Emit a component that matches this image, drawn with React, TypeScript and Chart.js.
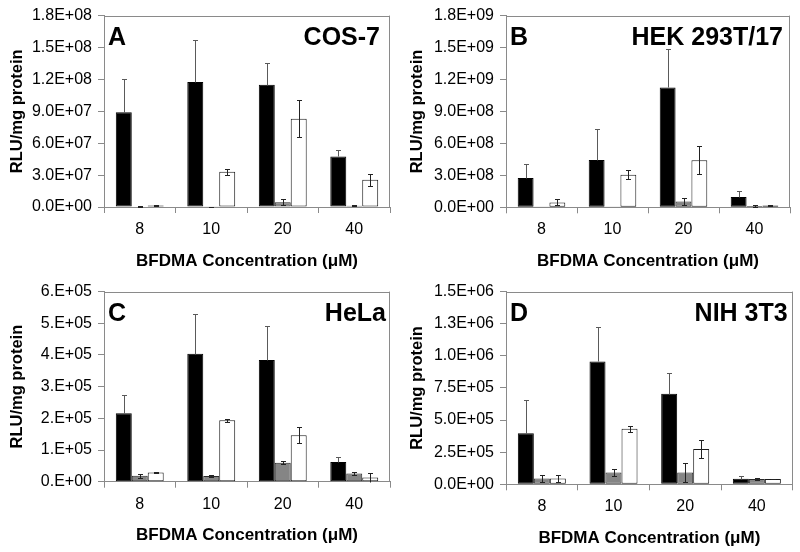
import React, { useEffect, useRef } from "react";
import { Chart, registerables } from "chart.js";
Chart.register(...registerables);

const FONT = '"Liberation Sans", Arial, Helvetica, sans-serif';

// ---------- data ----------
const categories = ["8", "10", "20", "40"];
const xTitle = "BFDMA Concentration (μM)";
const yTitle = "RLU/mg protein";

// A: COS-7
const cosBlack = [8.9e7, 1.175e8, 1.15e8, 4.75e7];
const cosBlackErr = [3.1e7, 3.95e7, 2.05e7, 0.65e7];
const cosGrey = [0.05e7, 0.03e7, 0.45e7, 0.12e7];
const cosGreyErr = [0.02e7, 0.01e7, 0.3e7, 0.05e7];
const cosWhite = [0.15e7, 3.32e7, 8.29e7, 2.57e7];
const cosWhiteErr = [0.05e7, 0.3e7, 1.73e7, 0.55e7];
const cosTicks = ["0.0E+00", "3.0E+07", "6.0E+07", "9.0E+07", "1.2E+08", "1.5E+08", "1.8E+08"];

// B: HEK 293T/17
const hekBlack = [2.75e8, 4.44e8, 11.25e8, 0.96e8];
const hekBlackErr = [1.3e8, 2.9e8, 3.6e8, 0.58e8];
const hekGrey = [0.005e8, 0.005e8, 0.55e8, 0.12e8];
const hekGreyErr = [0, 0, 0.3e8, 0.05e8];
const hekWhite = [0.46e8, 3.05e8, 4.41e8, 0.18e8];
const hekWhiteErr = [0.28e8, 0.43e8, 1.3e8, 0.05e8];
const hekTicks = ["0.0E+00", "3.0E+08", "6.0E+08", "9.0E+08", "1.2E+09", "1.5E+09", "1.8E+09"];

// C: HeLa
const helaBlack = [2.16e5, 4.04e5, 3.84e5, 0.62e5];
const helaBlackErr = [0.57e5, 1.24e5, 1.08e5, 0.15e5];
const helaGrey = [0.19e5, 0.18e5, 0.6e5, 0.26e5];
const helaGreyErr = [0.06e5, 0.04e5, 0.04e5, 0.06e5];
const helaWhite = [0.29e5, 1.94e5, 1.47e5, 0.13e5];
const helaWhiteErr = [0.015e5, 0.05e5, 0.25e5, 0.16e5];
const helaTicks = ["0.E+00", "1.E+05", "2.E+05", "3.E+05", "4.E+05", "5.E+05", "6.E+05"];

// D: NIH 3T3
const nihBlack = [3.98e5, 9.56e5, 7.04e5, 0.43e5];
const nihBlackErr = [2.58e5, 2.67e5, 1.6e5, 0.2e5];
const nihGrey = [0.46e5, 0.915e5, 0.915e5, 0.41e5];
const nihGreyErr = [0.25e5, 0.25e5, 0.74e5, 0.05e5];
const nihWhite = [0.46e5, 4.32e5, 2.75e5, 0.41e5];
const nihWhiteErr = [0.25e5, 0.25e5, 0.71e5, 0.03e5];
const nihTicks = ["0.0E+00", "2.5E+05", "5.0E+05", "7.5E+05", "1.0E+06", "1.3E+06", "1.5E+06"];

// ---------- panel layout ----------
type PanelCfg = {
  letter: string; name: string;
  black: number[]; blackErr: number[];
  grey: number[]; greyErr: number[];
  white: number[]; whiteErr: number[];
  ticks: string[]; max: number; step: number;
  box: { left: number; top: number; right: number; bottom: number };
  nameInset: number;
  pos: { x: number; y: number };
};

const panels: PanelCfg[] = [
  { letter: "A", name: "COS-7", black: cosBlack, blackErr: cosBlackErr, grey: cosGrey, greyErr: cosGreyErr,
    white: cosWhite, whiteErr: cosWhiteErr, ticks: cosTicks, max: 1.8e8, step: 3e7,
    box: { left: 104, top: 12.7, right: 390, bottom: 207 }, nameInset: 10, pos: { x: 0, y: 0 } },
  { letter: "B", name: "HEK 293T/17", black: hekBlack, blackErr: hekBlackErr, grey: hekGrey, greyErr: hekGreyErr,
    white: hekWhite, whiteErr: hekWhiteErr, ticks: hekTicks, max: 1.8e9, step: 3e8,
    box: { left: 106, top: 12.7, right: 390, bottom: 207.3 }, nameInset: 7, pos: { x: 400, y: 0 } },
  { letter: "C", name: "HeLa", black: helaBlack, blackErr: helaBlackErr, grey: helaGrey, greyErr: helaGreyErr,
    white: helaWhite, whiteErr: helaWhiteErr, ticks: helaTicks, max: 6e5, step: 1e5,
    box: { left: 104, top: 11.7, right: 390, bottom: 205.7 }, nameInset: 4, pos: { x: 0, y: 276 } },
  { letter: "D", name: "NIH 3T3", black: nihBlack, blackErr: nihBlackErr, grey: nihGrey, greyErr: nihGreyErr,
    white: nihWhite, whiteErr: nihWhiteErr, ticks: nihTicks, max: 1.5e6, step: 2.5e5,
    box: { left: 106, top: 11.7, right: 392.7, bottom: 208.3 }, nameInset: 5, pos: { x: 400, y: 276 } },
];

const W = 400;
const H = 276;
const AXIS = "#8a8a8a";

const decorPlugin = {
  id: "panelDecor",
  beforeDatasetsDraw(chart: any) {
    const { ctx, chartArea: a } = chart;
    ctx.save();
    ctx.strokeStyle = AXIS;
    ctx.lineWidth = 1;
    ctx.beginPath();
    ctx.moveTo(a.left, Math.round(a.top) + 0.5);
    ctx.lineTo(a.right, Math.round(a.top) + 0.5);
    ctx.moveTo(Math.round(a.right) - 0.5, a.top);
    ctx.lineTo(Math.round(a.right) - 0.5, a.bottom);
    ctx.stroke();
    ctx.restore();
  },
  afterDatasetsDraw(chart: any, _args: any, opts: any) {
    const { ctx, chartArea: a } = chart;
    const ys = chart.scales.y;
    ctx.save();
    ctx.lineWidth = 1;
    chart.data.datasets.forEach((ds: any, di: number) => {
      const meta = chart.getDatasetMeta(di);
      const errs: number[] = ds.errorBars || [];
      ctx.strokeStyle = ds.errorColor || "#444";
      meta.data.forEach((el: any, i: number) => {
        const v = ds.data[i];
        const e = errs[i] || 0;
        if (!e) return;
        const x = Math.round(el.x) + 0.5;
        const yt = Math.round(ys.getPixelForValue(v + e)) + 0.5;
        const yv = Math.round(ys.getPixelForValue(v)) + 0.5;
        const yb = Math.round(ys.getPixelForValue(Math.max(0, v - e))) + 0.5;
        ctx.beginPath();
        ctx.moveTo(x, yt);
        ctx.lineTo(x, ds.upperOnly ? yv : yb);
        ctx.moveTo(x - 2.5, yt);
        ctx.lineTo(x + 2.5, yt);
        if (!ds.upperOnly && v - e > 0) {
          ctx.moveTo(x - 2.5, yb);
          ctx.lineTo(x + 2.5, yb);
        }
        ctx.stroke();
      });
    });
    ctx.fillStyle = "#000";
    ctx.font = `bold 25px ${FONT}`;
    ctx.textBaseline = "alphabetic";
    ctx.textAlign = "left";
    ctx.fillText(opts.letter, a.left + 4, a.top + 29.5);
    ctx.textAlign = "right";
    ctx.fillText(opts.name, a.right - opts.nameInset, a.top + 29.5);
    ctx.restore();
  },
};

function Panel({ cfg }: { cfg: PanelCfg }) {
  const ref = useRef<HTMLCanvasElement | null>(null);
  useEffect(() => {
    if (!ref.current) return;
    const b = cfg.box;
    const xHeight = H - b.bottom;
    const xTitlePadBottom = H - b.bottom - 54 - 10.2;
    const chart = new Chart(ref.current, {
      type: "bar",
      data: {
        labels: categories,
        datasets: [
          { data: cfg.black, backgroundColor: "#000000", borderColor: "#000000", borderWidth: 1, errorBars: cfg.blackErr, errorColor: "#5a5a5a", upperOnly: true } as any,
          { data: cfg.grey, backgroundColor: "#858585", borderColor: "#2a2a2a", borderWidth: 1, errorBars: cfg.greyErr, errorColor: "#222" } as any,
          { data: cfg.white, backgroundColor: "#ffffff", borderColor: "#1a1a1a", borderWidth: 1, errorBars: cfg.whiteErr, errorColor: "#222" } as any,
        ],
      },
      options: {
        animation: false,
        responsive: false,
        devicePixelRatio: 1,
        layout: { padding: { top: b.top, right: W - b.right, bottom: 0, left: 0 } },
        datasets: { bar: { categoryPercentage: 0.67, barPercentage: 1.0, borderSkipped: false } },
        plugins: {
          legend: { display: false },
          tooltip: { enabled: false },
          panelDecor: { letter: cfg.letter, name: cfg.name, nameInset: cfg.nameInset },
        } as any,
        scales: {
          x: {
            grid: { display: true, drawOnChartArea: false, drawTicks: true, tickLength: 6, color: AXIS, offset: true },
            border: { display: true, color: AXIS, width: 1 },
            ticks: { font: { size: 16, family: FONT }, color: "#000", padding: 7 },
            title: {
              display: true, text: xTitle, color: "#000",
              font: { size: 17, weight: "bold", family: FONT },
              padding: { top: 0, bottom: xTitlePadBottom },
            },
            afterFit: (s: any) => { s.height = xHeight; },
          },
          y: {
            min: 0, max: cfg.max,
            grid: { display: true, drawOnChartArea: false, drawTicks: true, tickLength: 6, color: AXIS },
            border: { display: true, color: AXIS, width: 1 },
            ticks: {
              stepSize: cfg.step, autoSkip: false, color: "#000", padding: 6,
              font: { size: 16, family: FONT },
              callback: (_v: any, i: number) => cfg.ticks[i],
            },
            title: {
              display: true, text: yTitle, color: "#000",
              font: { size: 16.5, weight: "bold", family: FONT },
              padding: { top: 8, bottom: 0 },
            },
            afterFit: (s: any) => { s.width = b.left; },
          },
        },
      } as any,
      plugins: [decorPlugin],
    });
    return () => chart.destroy();
  }, [cfg]);
  return (
    <canvas
      ref={ref}
      width={W}
      height={H}
      style={{ position: "absolute", left: cfg.pos.x, top: cfg.pos.y, width: W, height: H }}
    />
  );
}

export default function App() {
  return (
    <div style={{ position: "absolute", left: 0, top: 0, width: 800, height: 552, background: "#fff", overflow: "hidden" }}>
      {panels.map((p) => (
        <Panel key={p.letter} cfg={p} />
      ))}
    </div>
  );
}
